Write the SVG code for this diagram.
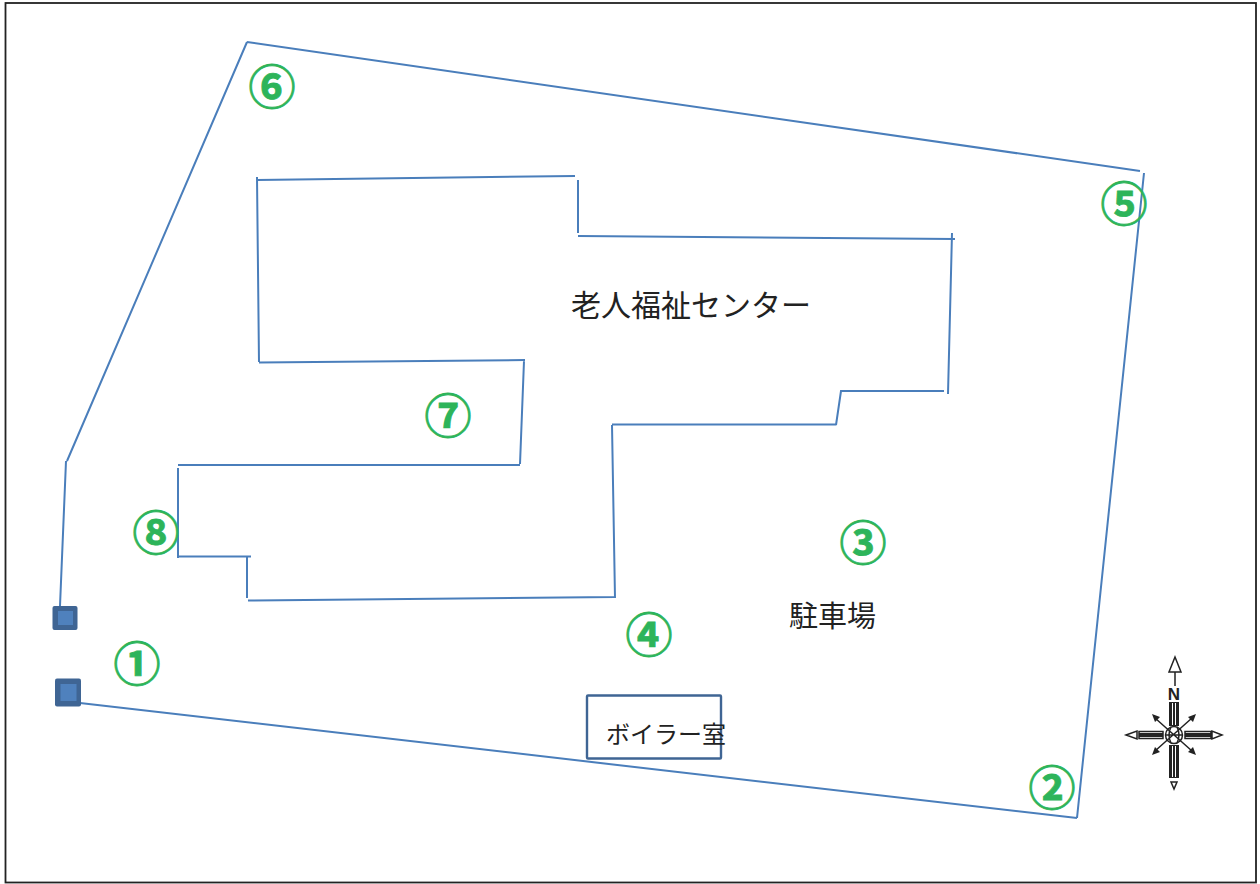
<svg xmlns="http://www.w3.org/2000/svg" width="1260" height="884" viewBox="0 0 1260 884">
<style>
.w{fill:none;stroke:#4a7ebb;stroke-width:2}
.n{font-family:"Noto Sans CJK JP","Liberation Sans",sans-serif;fill:#2db45a;stroke:#2db45a;stroke-width:.8px;font-size:47px;font-weight:700;text-anchor:middle}
.t{font-family:"Noto Sans CJK JP","Liberation Sans",sans-serif;fill:#222}
.o{fill:#3f6594}.i{fill:#4f81bd}
.c{fill:none;stroke:#222;stroke-width:1.500}.k{fill:#222}.h{fill:none;stroke:#fff;stroke-width:1}
</style>
<rect width="1260" height="884" fill="#fff"/>
<rect x="5.500" y="3" width="1250.500" height="879.500" fill="none" stroke="#222" stroke-width="1.800"/>
<g id="connectors">
<path class="w" d="M60 606L66 461M67 461L247 42M247 42L1140 171M1144 173L1077 818M1077 818L80 703"/>
<path class="w" d="M257 177L259 362M257 180L575 176M578 180V233M578 236L955 239M952 233L948 394M944 391H841L836 425M836 424.500H612M612 425L615 598M615 597L248 600.500M247 556V598M251 556.500H177M178 468V558M178 465H520M520 464L524 361M525 360L259 362.500"/>
</g>
<g id="gate1"><rect class="o" x="52.500" y="606" width="25" height="24" rx="2"/><rect class="i" x="58" y="611" width="15" height="14"/></g>
<g id="gate2"><rect class="o" x="55" y="678.500" width="26" height="28" rx="2"/><rect class="i" x="60.500" y="684" width="16" height="17"/></g>
<g id="boiler"><rect x="587" y="695.500" width="134" height="63" rx="1" fill="none" stroke="#3f6594" stroke-width="2.400"/><text class="t" x="606" y="743" font-size="24">ボイラー室</text></g>
<g id="center"><text class="t" x="571" y="316" font-size="30">老人福祉センター</text></g>
<g id="parking"><text class="t" x="789" y="627" font-size="29">駐車場</text></g>
<g id="n1"><text class="n" x="137" y="681">①</text></g>
<g id="n2"><text class="n" x="1052" y="805">②</text></g>
<g id="n3"><text class="n" x="863" y="560">③</text></g>
<g id="n4"><text class="n" x="649" y="652">④</text></g>
<g id="n5"><text class="n" x="1124" y="221">⑤</text></g>
<g id="n6"><text class="n" x="272" y="104">⑥</text></g>
<g id="n7"><text class="n" x="448" y="433">⑦</text></g>
<g id="n8"><text class="n" x="156" y="550">⑧</text></g>
<g id="compass">
<path class="c" d="M1175 657L1169 672H1181ZM1175 672V686M1174 789L1171 782H1177ZM1126 735L1137 731V739ZM1222 735L1212 731V739ZM1139 731.500H1163V738.500H1139ZM1185 731.500H1211V738.500H1185Z"/>
<path class="k" d="M1169 702H1179V726H1169ZM1169 745H1179V778H1169ZM1139 733H1163V737H1139ZM1185 733H1211V737H1185Z"/>
<path class="h" d="M1172.500 703V725M1175.500 703V725M1172.500 746V777M1175.500 746V777"/>
<circle class="c" cx="1174" cy="735" r="8.500"/>
<path class="c" d="M1171 727Q1167 735 1171 743M1177 727Q1181 735 1177 743M1166 735H1182M1155 718L1192 751M1192 718L1155 751"/>
<path class="k" d="M1152 714L1160 717L1155 722ZM1196 714L1188 717L1193 722ZM1152 755L1155 747L1160 752ZM1196 755L1193 747L1188 752Z"/>
<text x="1174" y="699.500" font-family="Liberation Sans,sans-serif" font-weight="700" font-size="17" text-anchor="middle" fill="#222">N</text>
</g>
</svg>
